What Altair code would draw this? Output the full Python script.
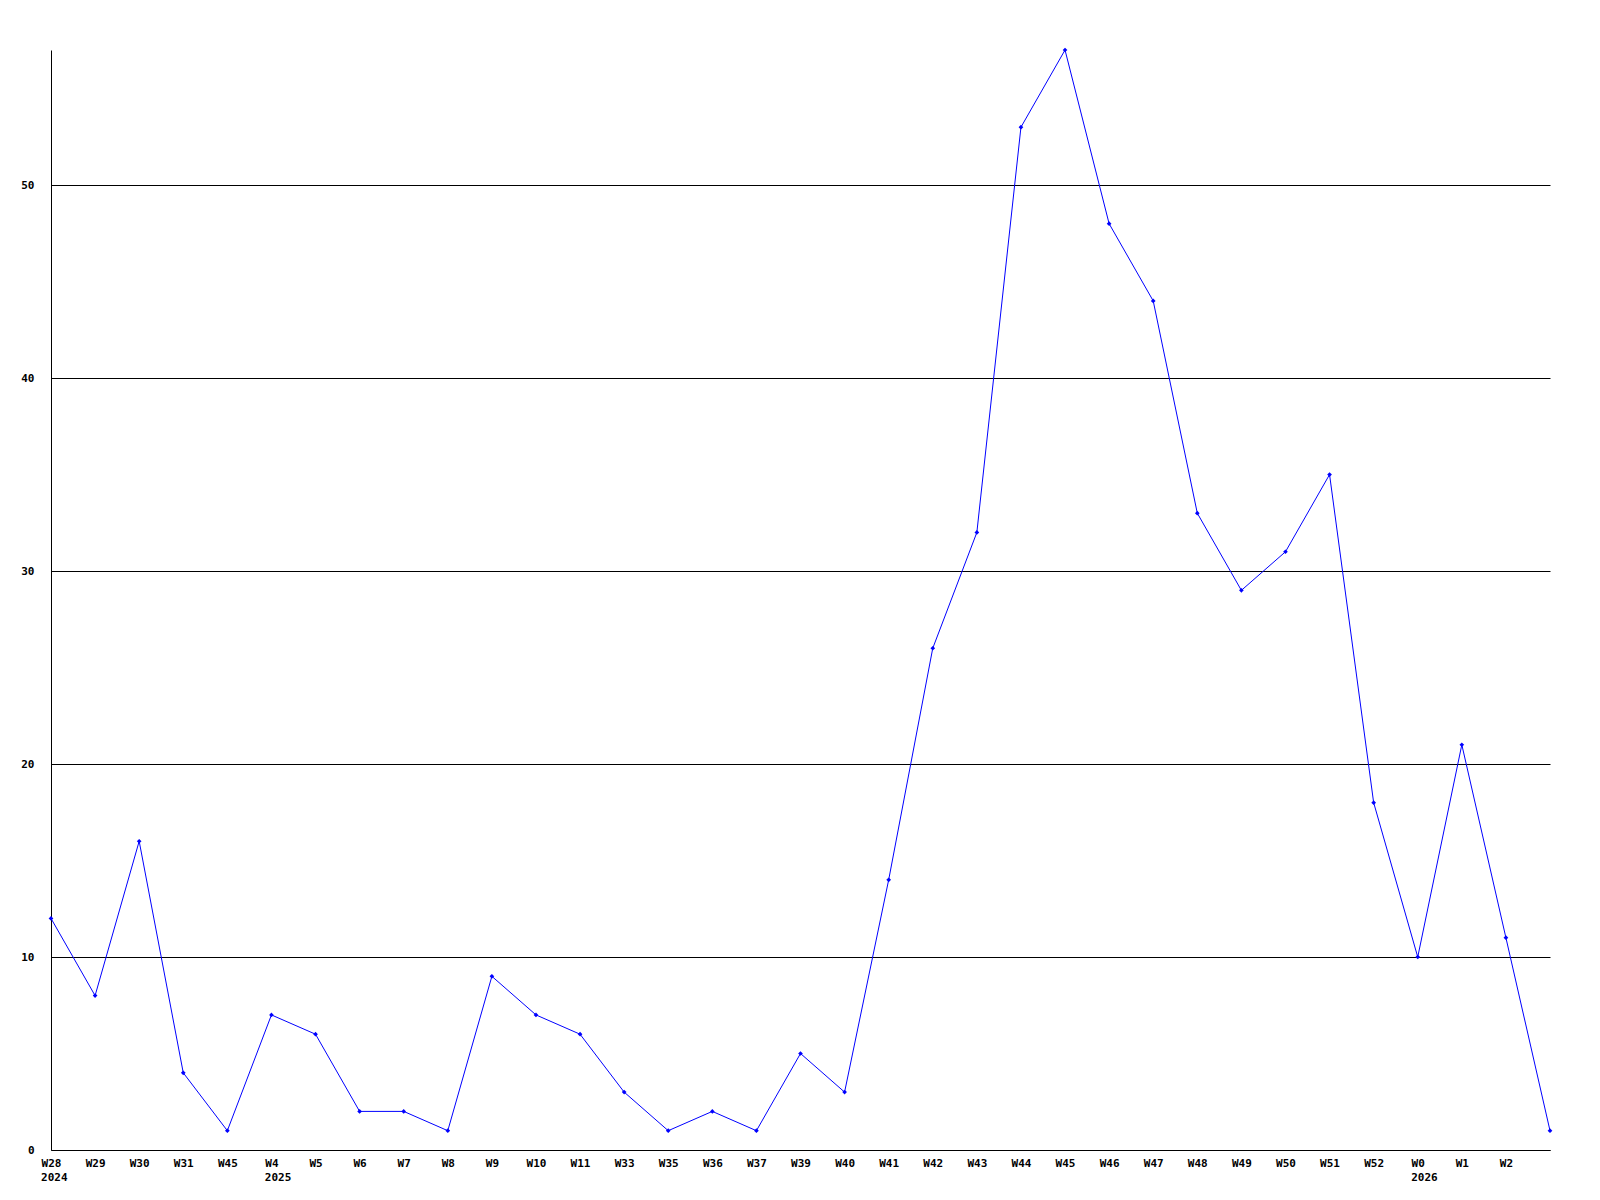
import altair as alt
import pandas as pd
import json

weeks = ["W28", "W29", "W30", "W31", "W45", "W4", "W5", "W6", "W7", "W8", "W9",
         "W10", "W11", "W33", "W35", "W36", "W37", "W39", "W40", "W41", "W42",
         "W43", "W44", "W45", "W46", "W47", "W48", "W49", "W50", "W51", "W52",
         "W0", "W1", "W2", ""]
counts = [12, 8, 16, 4, 1, 7, 6, 2, 2, 1, 9, 7, 6, 3, 1, 2, 1, 5, 3, 14, 26,
          32, 53, 57, 48, 44, 33, 29, 31, 35, 18, 10, 21, 11, 1]
year_index = [0, 5, 31]
year_text = ["2024", "2025", "2026"]

df = pd.DataFrame({"idx": list(range(len(counts))), "week": weeks, "count": counts})

FONT = "DejaVu Sans Mono"
W, H = 1499, 1100
n = len(counts) - 1

label_expr = json.dumps(weeks) + "[datum.value]"

x = alt.X("idx:Q",
          scale=alt.Scale(domain=[0, n], nice=False, zero=False),
          axis=alt.Axis(values=list(range(len(weeks) - 1)), labelExpr=label_expr,
                        title=None, grid=False, ticks=False, domainColor="black",
                        domainWidth=1, labelFont=FONT, labelFontSize=11,
                        labelFontWeight="bold", labelColor="black", labelPadding=7,
                        labelOverlap=False, labelFlush=False))
y = alt.Y("count:Q",
          scale=alt.Scale(domain=[0, 57], nice=False),
          axis=alt.Axis(values=[0, 10, 20, 30, 40, 50], title=None, grid=True,
                        gridColor="black", gridWidth=1, gridOpacity=1, ticks=False,
                        domainColor="black", domainWidth=1, labelFont=FONT,
                        labelFontSize=11, labelFontWeight="bold", labelColor="black",
                        labelPadding=17))

base = alt.Chart(df)
line = base.mark_line(color="#0000ff", strokeWidth=1).encode(x=x, y=y)
pts = base.mark_point(shape="diamond", filled=True, color="#0000ff", size=22,
                      opacity=1).encode(x="idx:Q", y="count:Q")

layers = [line, pts]
for i, t in zip(year_index, year_text):
    ydf = pd.DataFrame({"idx": [i], "year": [t]})
    layers.append(
        alt.Chart(ydf).mark_text(font=FONT, fontSize=11, fontWeight="bold",
                                 color="black", align="left", baseline="top",
                                 dx=-len(weeks[i]) * 3.3)
        .encode(x="idx:Q", y=alt.value(H + 22), text="year:N")
    )

chart = alt.layer(*layers).properties(
    width=W, height=H,
    background="white",
    autosize=alt.AutoSizeParams(type="none"),
    padding={"left": 43, "top": 42, "right": 42, "bottom": 42},
).configure_view(stroke=None, strokeWidth=0)

chart.save("out.html", embed_options={"renderer": "svg", "actions": False})
